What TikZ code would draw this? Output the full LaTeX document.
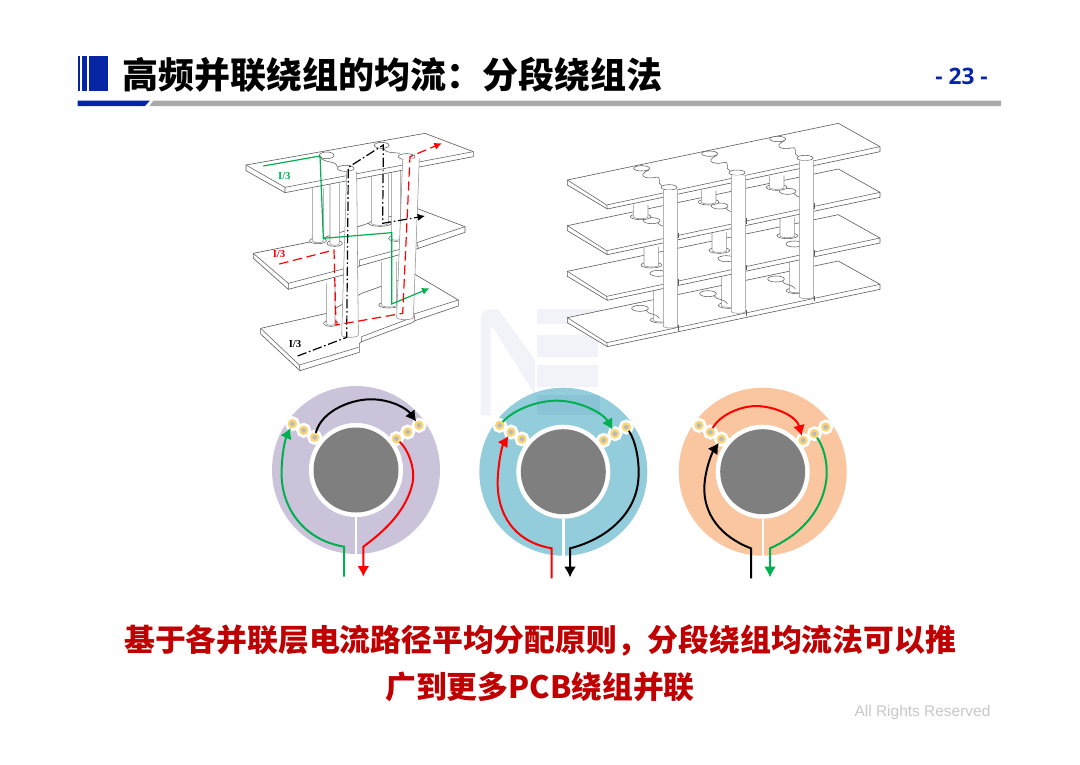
\documentclass[tikz,border=0pt]{standalone}
\usepackage{fontspec}
\usepackage{tikz}
\usetikzlibrary{arrows.meta}
\setmainfont{Liberation Serif}
\newfontfamily\cjk{Noto Sans CJK SC}
\newfontfamily\numfont{Open Sans}
\newfontfamily\armfont{Liberation Sans}
\definecolor{headblue}{HTML}{0626A6}
\definecolor{headgray}{HTML}{A9A9A9}
\definecolor{textred}{HTML}{C00000}
\definecolor{wgreen}{HTML}{00B050}
\definecolor{wred}{HTML}{FF0000}
\definecolor{discpurple}{HTML}{CBC3DA}
\definecolor{discblue}{HTML}{93CDDC}
\definecolor{discorange}{HTML}{FAC6A0}
\definecolor{coregray}{HTML}{7F7F7F}
\definecolor{viayellow}{HTML}{FAD677}
\definecolor{viagray}{HTML}{B9B9B9}
\definecolor{edge}{HTML}{5A5A5A}
\definecolor{stemline}{HTML}{8C8C8C}
\newcommand{\winding}[4]{%
  \draw[foot] ({(#1+#2)/2},#4) ellipse ({(#2-#1)/2+9} and 9);
  \draw[stem] (#1,#3) -- (#1,#4) arc (180:0:{(#2-#1)/2} and 6) -- (#2,#3);
}
\begin{document}
\begin{tikzpicture}[
    x=0.75pt, y=-0.75pt,
    titletext/.style={font=\cjk\bfseries\fontsize{27}{27}\selectfont, anchor=west, inner sep=0pt},
    mainline/.style={font=\cjk\bfseries\fontsize{23.1}{23.1}\selectfont, text=textred},
    plate/.style={fill=white, draw=edge, line width=0.45pt, line join=round},
    stem/.style={fill=white, draw=stemline, line width=0.4pt},
    foot/.style={fill=white, draw=edge, line width=0.4pt},
    crease/.style={draw=edge, line width=0.4pt},
    path3d/.style={line width=0.9pt, -{Latex[length=5.5pt, width=5.5pt]}},
    label3d/.style={font=\bfseries\fontsize{8}{8}\selectfont, inner sep=0pt},
    disc/.style={circle, inner sep=0pt, outer sep=0pt},
    via/.style={circle, inner sep=0pt, minimum size=5.4pt, fill=viagray,
      draw=viayellow, line width=1.6pt,
      preaction={draw=white, line width=5.6pt}},
    slit/.style={draw=white, line width=1.8pt},
    current/.style={line width=1.5pt, -{Latex[length=8pt, width=9pt]}}
  ]
  \useasboundingbox (0,0) rectangle (1080,764);

  % header
  \fill[headblue] (77.7,55.5) rectangle (80,91);
  \fill[headblue] (82,55.5) rectangle (86.5,91);
  \fill[headblue] (88.7,55.5) rectangle (108,91);
  \fill[headblue] (77.5,100.5) -- (150,100.5) -- (145,106) -- (77.5,106) -- cycle;
  \fill[headgray] (153.5,100.5) -- (1001,100.5) -- (1001,106) -- (149.5,106) -- cycle;
  \node[titletext] (title) at (122,75) {高频并联绕组的均流：分段绕组法};
  \node[font=\numfont\bfseries\fontsize{17}{17}\selectfont, text=headblue] (page) at (961.5,76) {- 23 -};

  % discs
  \foreach \n/\cx/\cy/\col in {a/356/470/discpurple, b/563.3/471.7/discblue, c/762.7/471.7/discorange} {
    \node[disc, fill=\col, minimum size=126pt] (\n disc) at (\cx,\cy) {};
    \node[disc, fill=white, minimum size=70.5pt] (\n ring) at (\cx,\cy) {};
    \node[disc, fill=coregray, minimum size=63.75pt] (\n core) at (\cx,\cy) {};
    \draw[slit] (\n ring.south) -- (\n disc.south);
  }

  % logo
  \begin{scope}[shift={(470,300)}, scale=1/3, fill=headblue!70!black, fill opacity=0.05]
    \fill (32,345) -- (32,55) .. controls (35,38) and (45,28) .. (62,28) -- (85,28) -- (195,180)
      -- (195,285) -- (70,85) -- (62,85) -- (62,345) -- cycle;
    \fill (200,28) rectangle (390,72);
    \fill (200,105) rectangle (385,172);
    \fill (200,195) rectangle (385,262);
    \fill (200,285) rectangle (390,345);
  \end{scope}

  % vias
  \foreach \n/\cx/\cy in {a/356/470, b/563.3/471.7, c/762.7/471.7} {
    \begin{scope}[shift={(\cx,\cy)}, scale=1/3]
      \foreach \i/\vx/\vy in {1/-191/-139, 2/-157/-119, 3/-124/-98, 4/121/-94, 5/155/-114, 6/189/-134}
        \node[via] (\n\i) at (\vx,\vy) {};
    \end{scope}
  }

  \begin{scope}[shift={(260,380)}, scale=1/3]
    \coordinate (ain) at (252,590);
    \coordinate (abendl) at (252,500);
    \coordinate (aout) at (310,590);
    \coordinate (abendr) at (310,500);
    \draw[current, wgreen] (ain) -- (abendl) .. controls (130,480) and (60,380) .. (65,270)
      .. controls (66,220) and (75,180) .. (a1);
    \draw[current, wred] (a4) .. controls (445,210) and (470,270) .. (455,320)
      .. controls (430,410) and (350,470) .. (abendr) -- (aout);
    \draw[current, black] (a3) .. controls (185,90) and (280,55) .. (340,58)
      .. controls (395,60) and (440,85) .. (a6);
  \end{scope}
  \begin{scope}[shift={(470,380)}, scale=1/3]
    \coordinate (bin) at (245,595);
    \coordinate (bbendl) at (245,505);
    \coordinate (bout) at (300,592);
    \coordinate (bbendr) at (300,505);
    \draw[current, wred] (bin) -- (bbendl) .. controls (130,485) and (80,400) .. (83,300)
      .. controls (85,250) and (95,200) .. (b2);
    \draw[current, black] (b6) .. controls (495,180) and (510,240) .. (505,300)
      .. controls (495,410) and (400,480) .. (bbendr) -- (bout);
    \draw[current, wgreen] (b1) .. controls (130,90) and (200,62) .. (260,62)
      .. controls (330,62) and (400,100) .. (b5);
  \end{scope}
  \begin{scope}[shift={(670,380)}, scale=1/3]
    \coordinate (cin) at (243,595);
    \coordinate (cbendl) at (243,505);
    \coordinate (cout) at (300,592);
    \coordinate (cbendr) at (300,505);
    \draw[current, black] (cin) -- (cbendl) .. controls (150,470) and (100,400) .. (103,320)
      .. controls (105,270) and (125,220) .. (c3);
    \draw[current, wgreen] (c5) .. controls (460,200) and (472,240) .. (470,290)
      .. controls (460,400) and (380,470) .. (cbendr) -- (cout);
    \draw[current, wred] (c2) .. controls (150,105) and (210,78) .. (260,78)
      .. controls (320,80) and (380,110) .. (c4);
  \end{scope}

  % left winding with currents
  \begin{scope}[shift={(230,110)}, scale=1/3]
    \draw[plate] (92,655) -- (290,610) -- (395,550) -- (555,493) -- (685,570) -- (685,588)
      -- (555,632) -- (547,638) -- (395,695) -- (388,700) -- (388,727) -- (210,782) -- (92,672) -- cycle;
    \draw[crease] (92,655) -- (208,765) -- (385,712) (208,765) -- (210,782)
      (395,680) -- (540,625) (395,680) -- (395,695) (552,612) -- (685,570) (552,612) -- (555,632);
    \winding{290}{315}{520}{640}
    \winding{455}{500}{455}{585}
    \draw[plate] (70,430) -- (245,395) -- (415,340) -- (560,295) -- (705,350) -- (705,367)
      -- (565,415) -- (540,425) -- (388,468) -- (358,490) -- (175,538) -- (70,445) -- cycle;
    \draw[crease] (70,430) -- (175,520) -- (358,472) (175,520) -- (175,538)
      (388,450) -- (540,410) (388,450) -- (388,468) (560,398) -- (705,350) (560,398) -- (565,415);
    \winding{248}{280}{235}{392}
    \winding{300}{328}{220}{400}
    \winding{425}{475}{190}{340}
    \winding{485}{512}{175}{385}
    \draw[plate] (48,165) -- (585,70) -- (730,125) -- (730,140) -- (165,248) -- (48,182) -- cycle;
    \draw[crease] (48,165) -- (165,232) -- (730,125) (165,232) -- (165,248);
    \draw[foot] (290,136) ellipse (22 and 10);
    \draw[crease] (268,140) .. controls (285,162) and (320,150) .. (322,172);
    \draw[foot] (347,175) ellipse (25 and 9);
    \draw[foot] (455,106) ellipse (22 and 9);
    \draw[crease] (460,115) .. controls (475,135) and (495,125) .. (510,130);
    \draw[foot] (530,140) ellipse (25 and 9);
    \draw[stem] (350,185) -- (335,675) arc (180:0:25 and 7) -- (380,185);
    \draw[stem] (518,148) -- (500,622) arc (180:0:25 and 7) -- (568,145);
    \draw[path3d, wgreen] (100,168) -- (270,138) -- (280,385) -- (485,368) -- (485,582) -- (598,535);
    \draw[path3d, black, dash pattern=on 7pt off 2pt on 1.2pt off 2pt]
      (203,738) -- (350,682) -- (355,172) -- (460,105) -- (458,340) -- (585,318);
    \draw[path3d, wred, dash pattern=on 7pt off 3.5pt]
      (148,462) -- (312,420) -- (318,645) -- (518,610) -- (540,140) -- (635,100);
    \node[label3d, text=wgreen] (igreen) at (163,197) {I/3};
    \node[label3d, text=wred] (ired) at (147,433) {I/3};
    \node[label3d, text=black] (iblack) at (195,703) {I/3};
  \end{scope}

  % right winding
  \begin{scope}[shift={(550,110)}, scale=1/3]
    \foreach \dy/\px/\ytop/\ybot/\hx/\hy in {413/310/520/630/270/595, 274/282/410/465/325/490, 137/250/285/320/305/332} {
      \draw[plate] (52,210+\dy) -- (865,40+\dy) -- (990,110+\dy) -- (990,125+\dy)
        -- (172,297+\dy) -- (52,225+\dy) -- cycle;
      \draw[crease] (52,210+\dy) -- (170,285+\dy) -- (990,110+\dy) (170,285+\dy) -- (172,297+\dy);
      \foreach \u in {0,1,2} {
        \begin{scope}[shift={({\u*204},{-\u*44})}]
          \draw[foot] (\hx,\hy) ellipse (25 and 9);
          \winding{\px}{\px+44}{\ytop}{\ybot}
          \draw[crease] (\hx+18,\hy+6) .. controls (\hx+28,\hy+22) and (\hx+45,\hy+12) .. (\hx+58,\hy+30);
        \end{scope}
      }
    }
    \draw[plate] (52,210) -- (865,40) -- (990,110) -- (990,125) -- (172,297) -- (52,225) -- cycle;
    \draw[crease] (52,210) -- (170,285) -- (990,110) (170,285) -- (172,297);
    \foreach \u in {0,1,2} {
      \begin{scope}[shift={({\u*204},{-\u*44})}]
        \draw[foot] (275,175) ellipse (24 and 8);
        \draw[crease] (296,180) .. controls (255,200) and (295,208) .. (315,202)
          .. controls (340,196) and (318,222) .. (335,226);
        \draw[foot] (357,232) ellipse (24 and 8);
        \draw[stem] (340,240) -- (340,648) arc (180:0:21.5 and 6) -- (383,240);
        \foreach \o in {0,140,277}
          \draw[edge, line width=0.7pt] (386,368+\o) -- (386,385+\o);
      \end{scope}
    }
  \end{scope}

  \node[mainline] (line1) at (540,640) {基于各并联层电流路径平均分配原则，分段绕组均流法可以推};
  \node[mainline] (line2) at (540,687) {广到更多PCB绕组并联};
  \node[font=\armfont\fontsize{11.6}{11.6}\selectfont, text=black!22] (rights) at (922.5,712) {All Rights Reserved};
\end{tikzpicture}
\end{document}
